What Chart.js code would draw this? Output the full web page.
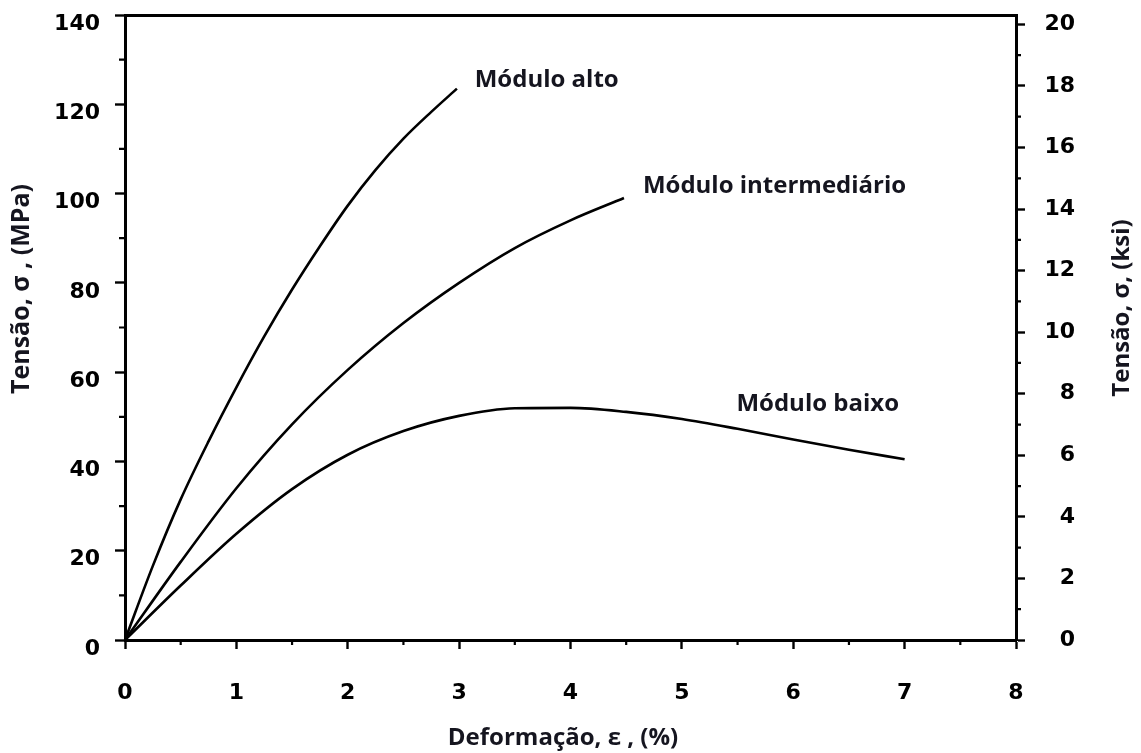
<!DOCTYPE html>
<html>
<head>
<meta charset="utf-8">
<script src="https://cdn.jsdelivr.net/npm/chart.js@4.4.1/dist/chart.umd.min.js"></script>
<style>
  html, body { margin: 0; padding: 0; background: #fff; }
  #wrap { width: 1141px; height: 753px; position: relative; }
</style>
</head>
<body>
<div id="wrap"><canvas id="chart"></canvas></div>
<script>
// Stress–strain curves for three modulus grades (strain in %, stress in MPa)
const strainAlto  = [0, 0.25, 0.5, 0.75, 1.0, 1.25, 1.5, 1.75, 2.0, 2.25, 2.5, 2.75, 2.98];
const stressAlto  = [0, 16.6, 31.5, 44.5, 56.6, 68.0, 78.5, 88.2, 97.3, 105.3, 112.3, 118.3, 123.5];

const strainInter = [0, 0.5, 1.0, 1.5, 2.0, 2.5, 3.0, 3.5, 4.0, 4.48];
const stressInter = [0, 17.5, 34.0, 48.3, 60.5, 71.0, 80.0, 87.8, 94.0, 99.0];

const strainBaixo = [0, 0.5, 1.0, 1.5, 2.0, 2.5, 3.0, 3.5, 4.0, 4.5, 5.0, 5.5, 6.0, 6.5, 7.0];
const stressBaixo = [0, 12.2, 23.8, 33.8, 41.5, 46.8, 50.2, 51.9, 52.0, 51.1, 49.5, 47.3, 44.9, 42.6, 40.5];

const seriesNames = ['Módulo alto', 'Módulo intermediário', 'Módulo baixo'];

// Axis ticks
const strainTicks = [0, 1, 2, 3, 4, 5, 6, 7, 8];
const mpaTicks = [0, 20, 40, 60, 80, 100, 120, 140];
const ksiTicks = [0, 2, 4, 6, 8, 10, 12, 14, 16, 18, 20];
const MPA_PER_KSI = 6.895;

const toPoints = (xs, ys) => xs.map((x, i) => ({ x, y: ys[i] }));

// Where each curve's name is written (strain %, MPa)
const labelAnchors = [
  { x: 3.14, y: 125.5 },
  { x: 4.65, y: 101.6 },
  { x: 5.49, y: 52.8 }
];

const INK = '#000';
const TEXT = '#15151f';
const tickFont = { family: '"DejaVu Sans", sans-serif', size: 22, weight: 'bold' };
const labelFamily = '"Open Sans", Lato, sans-serif';

// Short intermediate tick marks halfway between the labelled ticks
const minorTicks = {
  id: 'minorTicks',
  afterDraw(chart) {
    const { ctx, chartArea: a } = chart;
    const sx = chart.scales.x, sy = chart.scales.y, sk = chart.scales.y2;
    ctx.save();
    ctx.strokeStyle = INK;
    ctx.lineWidth = 2.2;
    ctx.beginPath();
    for (let i = 0; i < strainTicks.length - 1; i++) {
      const px = sx.getPixelForValue((strainTicks[i] + strainTicks[i + 1]) / 2);
      ctx.moveTo(px, a.bottom); ctx.lineTo(px, a.bottom + 5);
    }
    for (let i = 0; i < mpaTicks.length - 1; i++) {
      const py = sy.getPixelForValue((mpaTicks[i] + mpaTicks[i + 1]) / 2);
      ctx.moveTo(a.left, py); ctx.lineTo(a.left - 6, py);
    }
    for (let i = 0; i < ksiTicks.length - 1; i++) {
      const py = sk.getPixelForValue((ksiTicks[i] + ksiTicks[i + 1]) / 2);
      ctx.moveTo(a.right, py); ctx.lineTo(a.right + 5, py);
    }
    ctx.stroke();
    ctx.restore();
  }
};

// Axis titles and the curve names
const textLayer = {
  id: 'textLayer',
  afterDraw(chart) {
    const { ctx } = chart;
    const sx = chart.scales.x, sy = chart.scales.y;
    ctx.save();
    ctx.fillStyle = TEXT;
    ctx.textBaseline = 'middle';
    ctx.textAlign = 'center';

    ctx.font = `bold 24px ${labelFamily}`;
    ctx.fillText('Deformação, ε , (%)', 563, 738);

    ctx.save();
    ctx.translate(1122, 308);
    ctx.rotate(-Math.PI / 2);
    ctx.fillText('Tensão, σ, (ksi)', 0, 0);
    ctx.restore();

    ctx.font = `bold 25px ${labelFamily}`;
    ctx.save();
    ctx.translate(22, 289);
    ctx.rotate(-Math.PI / 2);
    ctx.fillText('Tensão, σ , (MPa)', 0, 0);
    ctx.restore();

    ctx.font = `bold 24px ${labelFamily}`;
    ctx.textAlign = 'left';
    seriesNames.forEach((name, i) => {
      const p = labelAnchors[i];
      ctx.fillText(name, sx.getPixelForValue(p.x), sy.getPixelForValue(p.y));
    });
    ctx.restore();
  }
};

const lineStyle = {
  borderColor: INK,
  borderWidth: 2.6,
  pointRadius: 0,
  fill: false,
  cubicInterpolationMode: 'monotone'
};

const fitX = h => s => { s.height = h; s.paddingLeft = 0; s.paddingRight = 0; };
const fitY = w => s => { s.width = w; s.paddingTop = 0; s.paddingBottom = 0; };

new Chart(document.getElementById('chart'), {
  type: 'line',
  data: {
    datasets: [
      { label: seriesNames[0], data: toPoints(strainAlto, stressAlto), ...lineStyle },
      { label: seriesNames[1], data: toPoints(strainInter, stressInter), ...lineStyle },
      { label: seriesNames[2], data: toPoints(strainBaixo, stressBaixo), ...lineStyle }
    ]
  },
  options: {
    responsive: true,
    maintainAspectRatio: false,
    animation: false,
    layout: { padding: { left: 0, top: 0, bottom: 0, right: 66 } },
    plugins: { legend: { display: false }, tooltip: { enabled: false } },
    scales: {
      x: {
        type: 'linear', position: 'bottom', min: 0, max: 8,
        afterBuildTicks: s => { s.ticks = strainTicks.map(v => ({ value: v })); },
        afterFit: fitX(113),
        ticks: { color: INK, font: tickFont, padding: 31 },
        grid: { drawOnChartArea: false, tickLength: 9, tickWidth: 2.4, tickColor: INK },
        border: { color: INK, width: 3 }
      },
      xTop: {
        type: 'linear', position: 'top', min: 0, max: 8,
        afterFit: fitX(15),
        ticks: { display: false },
        grid: { drawOnChartArea: false, drawTicks: false },
        border: { color: INK, width: 3 }
      },
      y: {
        type: 'linear', position: 'left', min: 0, max: 140,
        afterBuildTicks: s => { s.ticks = mpaTicks.map(v => ({ value: v })); },
        afterFit: fitY(125),
        ticks: { color: INK, font: tickFont, padding: 15, labelOffset: 9 },
        grid: { drawOnChartArea: false, tickLength: 10, tickWidth: 2.4, tickColor: INK },
        border: { color: INK, width: 3 }
      },
      y2: {
        type: 'linear', position: 'right', min: 0, max: 140 / MPA_PER_KSI,
        afterBuildTicks: s => { s.ticks = ksiTicks.map(v => ({ value: v })); },
        afterFit: fitY(59),
        ticks: { color: INK, font: tickFont, padding: 16, crossAlign: 'far' },
        grid: { drawOnChartArea: false, tickLength: 9, tickWidth: 2.4, tickColor: INK },
        border: { color: INK, width: 3 }
      }
    }
  },
  plugins: [minorTicks, textLayer]
});
</script>
</body>
</html>
